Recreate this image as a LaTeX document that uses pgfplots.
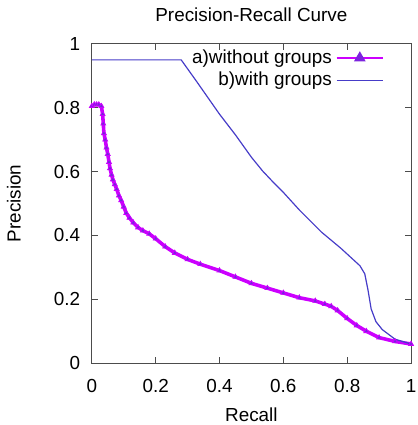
\documentclass[border=0pt]{standalone}
\usepackage{fontspec}
\setmainfont{Liberation Sans}
\usepackage{pgfplots}
\pgfplotsset{compat=1.18}
\definecolor{magline}{RGB}{204,0,255}
\definecolor{blueline}{RGB}{70,60,200}

\begin{document}
\fontsize{9.5}{11}\selectfont
\begin{tikzpicture}
\begin{axis}[
    width=160bp, height=160bp,
    scale only axis,
    xmin=0, xmax=1, ymin=0, ymax=1,
    xtick={0,0.2,...,1}, ytick={0,0.2,...,1},
    tick align=inside,
    major tick length=3bp,
    axis line style={draw=black!70, line width=0.5pt},
    tick style={black!70, line width=0.5pt},
    /pgf/number format/assume math mode=true,
    xticklabel style={yshift=-5bp},
    yticklabel style={xshift=-2.5bp},
    title={Precision-Recall Curve},
    title style={yshift=2bp},
    xlabel={Recall}, ylabel={Precision},
    xlabel style={yshift=-1bp},
    ylabel style={yshift=10bp},
    legend plot pos=right,
    legend cell align=right,
    legend style={draw=none, fill=none, at={(0.935,1.008)}, anchor=north east,
        row sep=-1bp, font=\fontsize{9.5}{11}\selectfont},
    legend image code/.code={
        \draw[#1] plot coordinates {(0cm,0cm) (0.82cm,0cm)};
    },
]

\addplot[magline, line width=1.8pt, mark=triangle*, mark size=1.4pt,
    mark options={fill=blueline!70!magline, draw=magline, line width=0.4pt},
    legend image code/.code={
        \draw[magline, line width=0.9pt] (0cm,0cm) -- (0.82cm,0cm);
        \fill[blueline!60!magline] (0.41cm,0cm) ++(90:1.6pt) -- ++(-120:2.8pt) -- ++(0:2.8pt) -- cycle;
    }]
  coordinates {
  (0.000,0.805) (0.008,0.810) (0.015,0.810) (0.022,0.810) (0.030,0.805)
  (0.034,0.780) (0.036,0.750) (0.038,0.720) (0.042,0.700) (0.046,0.675)
  (0.050,0.655) (0.054,0.630) (0.057,0.610) (0.062,0.590) (0.066,0.575)
  (0.072,0.560) (0.078,0.545) (0.085,0.525) (0.092,0.510) (0.100,0.490)
  (0.108,0.470) (0.118,0.455) (0.130,0.440) (0.145,0.425) (0.160,0.415)
  (0.180,0.405) (0.200,0.390) (0.230,0.365) (0.260,0.345) (0.300,0.325)
  (0.340,0.310) (0.400,0.290) (0.450,0.270) (0.500,0.250) (0.550,0.235)
  (0.600,0.220) (0.650,0.205) (0.700,0.195) (0.730,0.185) (0.750,0.178)
  (0.770,0.165) (0.800,0.140) (0.830,0.118) (0.860,0.100) (0.900,0.080)
  (0.950,0.068) (1.000,0.060)
};
\addlegendentry{a)without groups}

\addplot[blueline, line width=0.6pt, mark=none]
  coordinates {
  (0.000,0.950) (0.280,0.950) (0.330,0.880) (0.400,0.780) (0.450,0.715)
  (0.500,0.645) (0.535,0.602) (0.570,0.565) (0.600,0.535) (0.650,0.480)
  (0.720,0.410) (0.780,0.360) (0.840,0.305) (0.855,0.280) (0.865,0.230)
  (0.875,0.170) (0.890,0.130) (0.910,0.105) (0.950,0.075) (1.000,0.060)
};
\addlegendentry{b)with groups}

\coordinate (sw) at (rel axis cs:0,0);
\coordinate (ne) at (rel axis cs:1,1);
\end{axis}
\pgfresetboundingbox
\path ([shift={(-46bp,-31bp)}]sw) rectangle ([shift={(3bp,22bp)}]ne);
\end{tikzpicture}
\end{document}
